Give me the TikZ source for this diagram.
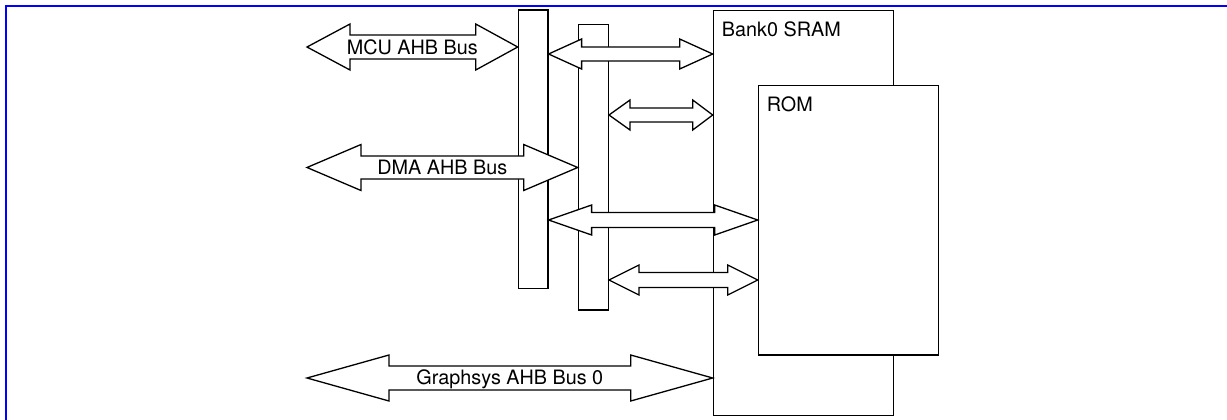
\documentclass[tikz,border=0pt]{standalone}
\usepackage{fontspec}
\setmainfont{TeX Gyre Heros}
\usetikzlibrary{calc}

\tikzset{
  box/.style={draw, line width=1.3pt, fill=white, inner sep=0pt, anchor=north west},
  bus/.style={draw, line width=1.3pt, fill=white, line join=miter},
  txt/.style={inner sep=0pt, font=\fontsize{19.8}{22}\selectfont}
}

% fat double arrow: #1 left end, #2 right end, #3 half shaft, #4 half head,
% #5 left head length, #6 right head length
\newcommand{\busarrow}[6]{%
  \draw[bus] let \p1=(#1), \p2=(#2) in
    (\x1,\y1) -- (\x1+#5pt,\y1+#4pt) -- (\x1+#5pt,\y1+#3pt)
    -- (\x2-#6pt,\y1+#3pt) -- (\x2-#6pt,\y1+#4pt) -- (\x2,\y1)
    -- (\x2-#6pt,\y1-#4pt) -- (\x2-#6pt,\y1-#3pt)
    -- (\x1+#5pt,\y1-#3pt) -- (\x1+#5pt,\y1-#4pt) -- cycle;}

\begin{document}
\begin{tikzpicture}[x=1pt, y=1pt]
\useasboundingbox (0,0) rectangle (1227,-420);

% Frame
\draw[blue, line width=2.2pt] (6,-420) -- (6,-6) -- (1227,-6);

% Bus matrix bars
\node[box, minimum width=29.6, minimum height=278.7] (bar1) at (517.7,-9.3) {};
\node[box, minimum width=30, minimum height=285.3] (bar2) at (577.7,-24) {};

% Memories
\node[box, minimum width=180, minimum height=405] (bank0) at (712.7,-10) {};
\node[box, minimum width=180, minimum height=269.3] (rom) at (757.7,-85) {};
\node[txt, anchor=base west] (bank0lbl) at ($(bank0.north west)+(9,-26.7)$) {Bank0 SRAM};
\node[txt, anchor=base west] (romlbl) at ($(rom.north west)+(9,-26.7)$) {ROM};

% Free ends of the buses
\coordinate (mcu) at (307,-47);
\coordinate (dma) at (307,-167.5);
\coordinate (gfx) at (307,-378);

% Masters
\busarrow{mcu}{bar1.west |- mcu}{12}{23}{43}{42}
\busarrow{dma}{bar2.west |- dma}{11.5}{23}{54}{54}

% Bars to memories
\busarrow{bar1.east |- 0,-54}{bank0.west |- 0,-54}{7}{15}{33}{33}
\busarrow{bar2.east |- 0,-115}{bank0.west |- 0,-115}{7}{15}{21}{20}
\busarrow{bar1.east |- 0,-220}{rom.west |- 0,-220}{7.5}{15}{43}{43}
\busarrow{bar2.east |- 0,-280}{rom.west |- 0,-280}{7.5}{15}{30}{30}

% Graphics bus straight into Bank0
\busarrow{gfx}{bank0.west |- gfx}{12}{23}{82}{82}

% Bus names
\node[txt] (mculbl) at ($(mcu)!.5!(bar1.west |- mcu)$) {MCU AHB Bus};
\node[txt] (dmalbl) at ($(dma)!.5!(bar2.west |- dma)$) {DMA AHB Bus};
\node[txt, anchor=base, fill=white, inner sep=1pt] (gfxlbl) at ($(gfx)!.5!(bank0.west |- gfx)+(0,-6)$) {Graphsys AHB Bus 0};

\end{tikzpicture}
\end{document}
